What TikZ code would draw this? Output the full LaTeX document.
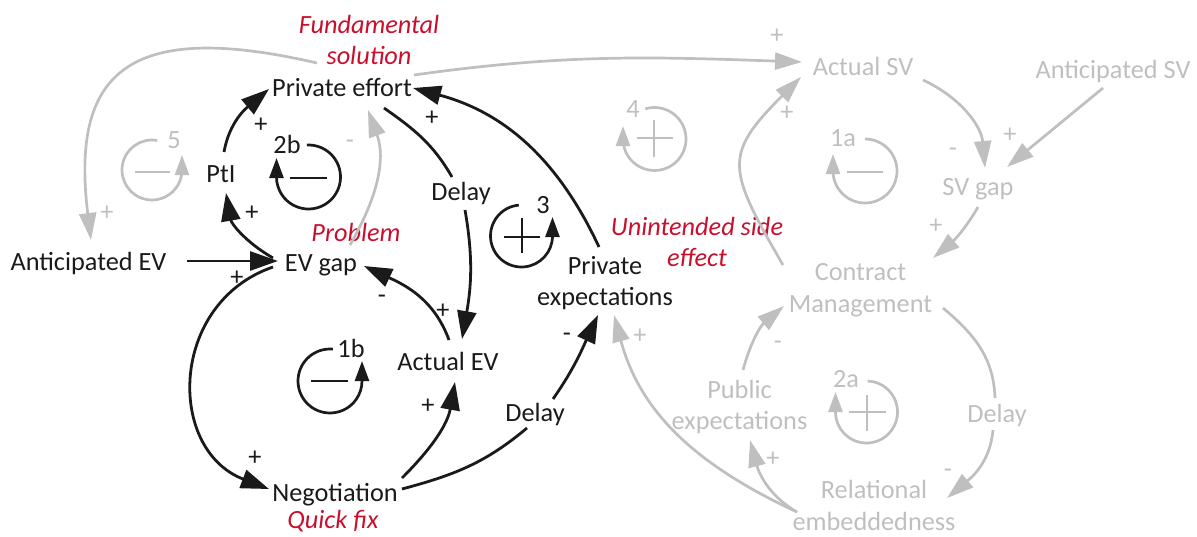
\documentclass[tikz,border=0pt]{standalone}
\usepackage{fontspec}
\setmainfont{Carlito}
\usetikzlibrary{arrows.meta}
\definecolor{ink}{HTML}{1A1A1A}
\definecolor{fade}{HTML}{BFBFBF}
\definecolor{accent}{HTML}{C8102E}
\newcommand\lnstrut{\rule[-7pt]{0pt}{26pt}}
\begin{document}
\begin{tikzpicture}[x=1pt,y=1pt,
  every node/.style={font=\fontsize{26.3}{31.5}\selectfont, inner sep=0pt},
  var/.style={text=ink, text height=19pt, text depth=7pt},
  gvar/.style={text=fade, text height=19pt, text depth=7pt},
  var2/.style={text=ink, align=center},
  gvar2/.style={text=fade, align=center},
  note/.style={text=accent, align=center, font=\fontsize{26.3}{31.5}\selectfont\itshape},
  sgn/.style={text=ink, anchor=base},
  gsgn/.style={text=fade, anchor=base},
  blk/.style={draw=ink, line width=2.8pt, -{Triangle[length=28pt,width=19pt]}},
  blkline/.style={draw=ink, line width=2.8pt},
  gry/.style={draw=fade, line width=2.7pt, -{Triangle[length=27pt,width=17pt]}},
  gryline/.style={draw=fade, line width=2.7pt},
  bloop/.style={draw=ink, line width=2.7pt, -{Triangle[length=20pt,width=14pt]}},
  gloop/.style={draw=fade, line width=2.7pt, -{Triangle[length=20pt,width=14pt]}},
  bbar/.style={draw=ink, line width=2.5pt},
  gbar/.style={draw=fade, line width=2.5pt}]
\useasboundingbox (0,0) rectangle (1197,-536);

% ---------- variables ----------
\node[var] (antev) at (88.5,-264) {Anticipated EV};
\node[var] (evgap) at (321,-265) {EV gap};
\node[var] (effort) at (342,-90) {Private effort};
\node[var] (pti) at (221,-176) {PtI};
\node[var] (delay1) at (461,-194) {Delay};
\node[var] (actev) at (448,-364) {Actual EV};
\node[var] (neg) at (335,-495) {Negotiation};
\node[var] (delay2) at (535,-415) {Delay};
\node[var2] (privexp) at (605,-283.75) {\lnstrut Private\\\lnstrut expectations};

\node[gvar] (actsv) at (863,-69) {Actual SV};
\node[gvar] (antsv) at (1113,-72) {Anticipated SV};
\node[gvar] (svgap) at (978,-189) {SV gap};
\node[gvar2] (contract) at (860.5,-290.25) {\lnstrut Contract\\\lnstrut Management};
\node[gvar] (delay3) at (997,-416) {Delay};
\node[gvar2] (relemb) at (874,-508.5) {\lnstrut Relational\\\lnstrut embeddedness};
\node[gvar2] (pubexp) at (739.5,-407.75) {\lnstrut Public\\\lnstrut expectations};

% ---------- annotations ----------
\node[note] (fund) at (369,-42.75) {\lnstrut Fundamental\\\lnstrut solution};
\node[note, text height=19pt, text depth=7pt] (problem) at (356,-235) {Problem};
\node[note] (unint) at (697,-244.75) {\lnstrut Unintended side\\\lnstrut effect};
\node[note, text height=19pt, text depth=7pt] (quick) at (333,-522) {Quick fix};

% ---------- loop labels ----------
\node[gvar] (l5) at (174,-142) {5};
\node[var] (l2b) at (287,-147) {2b};
\node[var] (l3) at (543,-207) {3};
\node[var] (l1b) at (351,-351) {1b};
\node[gvar] (l4) at (633,-111) {4};
\node[gvar] (l1a) at (843,-140) {1a};
\node[gvar] (l2a) at (846,-381) {2a};

% ---------- loop symbols ----------
% loop 5 (balancing)
\draw[gloop] (152,-170) ++(80:30) arc[start angle=80, end angle=360, radius=30] -- ++(0,15);
\draw[gbar] (135,-172) -- (170,-172);
% loop 2b (balancing)
\draw[bloop] (308.5,-177) ++(93:32) arc[start angle=93, end angle=-180, radius=32] -- ++(0,19);
\draw[bbar] (290,-178) -- (327,-178);
% loop 3 (reinforcing)
\draw[bloop] (521.5,-236) ++(95:31) arc[start angle=95, end angle=360, radius=31] -- ++(0,19);
\draw[bbar] (504,-237) -- (540,-237) (522,-218) -- (522,-253);
% loop 1b (balancing)
\draw[bloop] (330,-381) ++(85:32) arc[start angle=85, end angle=360, radius=32] -- ++(0,20);
\draw[bbar] (311,-381) -- (348,-381);
% loop 4 (reinforcing)
\draw[gloop] (654.5,-139) ++(107:31.5) arc[start angle=107, end angle=-180, radius=31.5] -- ++(0,13);
\draw[gbar] (637,-138) -- (673,-138) (654,-120) -- (654,-157);
% loop 1a (balancing)
\draw[gloop] (865,-171) ++(90:32) arc[start angle=90, end angle=-180, radius=32] -- ++(0,17);
\draw[gbar] (847,-172) -- (883,-172);
% loop 2a (reinforcing)
\draw[gloop] (866.5,-412) ++(88:31) arc[start angle=88, end angle=-180, radius=31] -- ++(0,20);
\draw[gbar] (849,-412) -- (886,-412) (867,-395) -- (867,-431);

% ---------- black links ----------
\draw[blk] ([shift={(98.5,3)}]antev.center) -- ([shift={(-43,4)}]evgap.center);
\draw[blk] ([shift={(-48,-2)}]evgap.center) .. controls +(199:110) and +(159:110) .. ([shift={(-66,6)}]neg.center);
\draw[blk] ([shift={(67,17)}]neg.center) to[out=45,in=-100] ([shift={(7,-18)}]actev.center);
\draw[blkline] ([shift={(67,6)}]neg.center) to[out=15,in=220] ([shift={(-8,-13)}]delay2.center);
\draw[blk] ([shift={(18,16)}]delay2.center) to[out=55,in=-115] ([shift={(-7,-31.25)}]privexp.center);
\draw[blk] ([shift={(1,24)}]actev.center) to[out=110,in=-25] ([shift={(43,-1)}]evgap.center);
\draw[blkline] ([shift={(42,-18)}]effort.center) to[out=-35,in=120] ([shift={(-9,17)}]delay1.center);
\draw[blk] ([shift={(4,-16)}]delay1.center) to[out=-80,in=80] ([shift={(14,25)}]actev.center);
\draw[blk] ([shift={(-6,36.75)}]privexp.center) to[out=115,in=-15] ([shift={(71,2)}]effort.center);
\draw[blk] ([shift={(-48,7)}]evgap.center) to[out=150,in=-80] ([shift={(5,-17)}]pti.center);
\draw[blk] ([shift={(3,24)}]pti.center) to[out=80,in=220] ([shift={(-73,1)}]effort.center);

% ---------- grey links ----------
\draw[gry] ([shift={(72,15)}]effort.center) to[out=8,in=178] ([shift={(-61,7)}]actsv.center);
\draw[gry] ([shift={(-25,27)}]effort.center) .. controls +(167:192) and +(97:171) .. ([shift={(2.5,24)}]antev.center);
\draw[gry] ([shift={(29,20)}]evgap.center) to[out=60,in=-70] ([shift={(26,-20)}]effort.center);
\draw[gry] ([shift={(60,-11)}]actsv.center) to[out=-25,in=95] ([shift={(7,21)}]svgap.center);
\draw[gry] ([shift={(-10,-16)}]antsv.center) -- ([shift={(29,22)}]svgap.center);
\draw[gry] ([shift={(0,-18)}]svgap.center) to[out=-120,in=40] ([shift={(72.5,32.25)}]contract.center);
\draw[gry] ([shift={(-77.5,25.25)}]contract.center) to[out=120,in=-135,looseness=1.5] ([shift={(-62,-8)}]actsv.center);
\draw[gryline] ([shift={(82.5,-17.75)}]contract.center) to[out=-40,in=92] ([shift={(-2,18)}]delay3.center);
\draw[gry] ([shift={(-4,-14)}]delay3.center) to[out=-95,in=40] ([shift={(73,10.5)}]relemb.center);
\draw[gry] ([shift={(-77,-3.5)}]relemb.center) to[out=150,in=-75] ([shift={(10.5,-32.25)}]pubexp.center);
\draw[gry] ([shift={(3.5,37.75)}]pubexp.center) to[out=75,in=220] ([shift={(-76.5,-15.75)}]contract.center);
\draw[gry] ([shift={(-77,-3.5)}]relemb.center) to[out=155,in=-75] ([shift={(9,-31.25)}]privexp.center);

% ---------- polarity signs ----------
\node[sgn] (s1) at (261,-132.5) {+};
\node[sgn] (s2) at (252,-220.5) {+};
\node[sgn] (s3) at (237,-285.5) {+};
\node[sgn] (s4) at (255,-465.5) {+};
\node[sgn] (s5) at (432,-125.5) {+};
\node[sgn] (s6) at (382,-303) {-};
\node[sgn] (s7) at (443,-318.5) {+};
\node[sgn] (s8) at (428,-413.5) {+};
\node[sgn] (s9) at (567,-341) {-};
\node[gsgn] (g1) at (350,-148) {-};
\node[gsgn] (g2) at (107,-220.5) {+};
\node[gsgn] (g3) at (777,-43.5) {+};
\node[gsgn] (g4) at (787,-120.5) {+};
\node[gsgn] (g5) at (953,-156) {-};
\node[gsgn] (g6) at (1010,-142.5) {+};
\node[gsgn] (g7) at (936,-233.5) {+};
\node[gsgn] (g8) at (778,-349) {-};
\node[gsgn] (g9) at (773,-466.5) {+};
\node[gsgn] (g10) at (640,-343.5) {+};
\node[gsgn] (g11) at (948,-477) {-};
\end{tikzpicture}
\end{document}
